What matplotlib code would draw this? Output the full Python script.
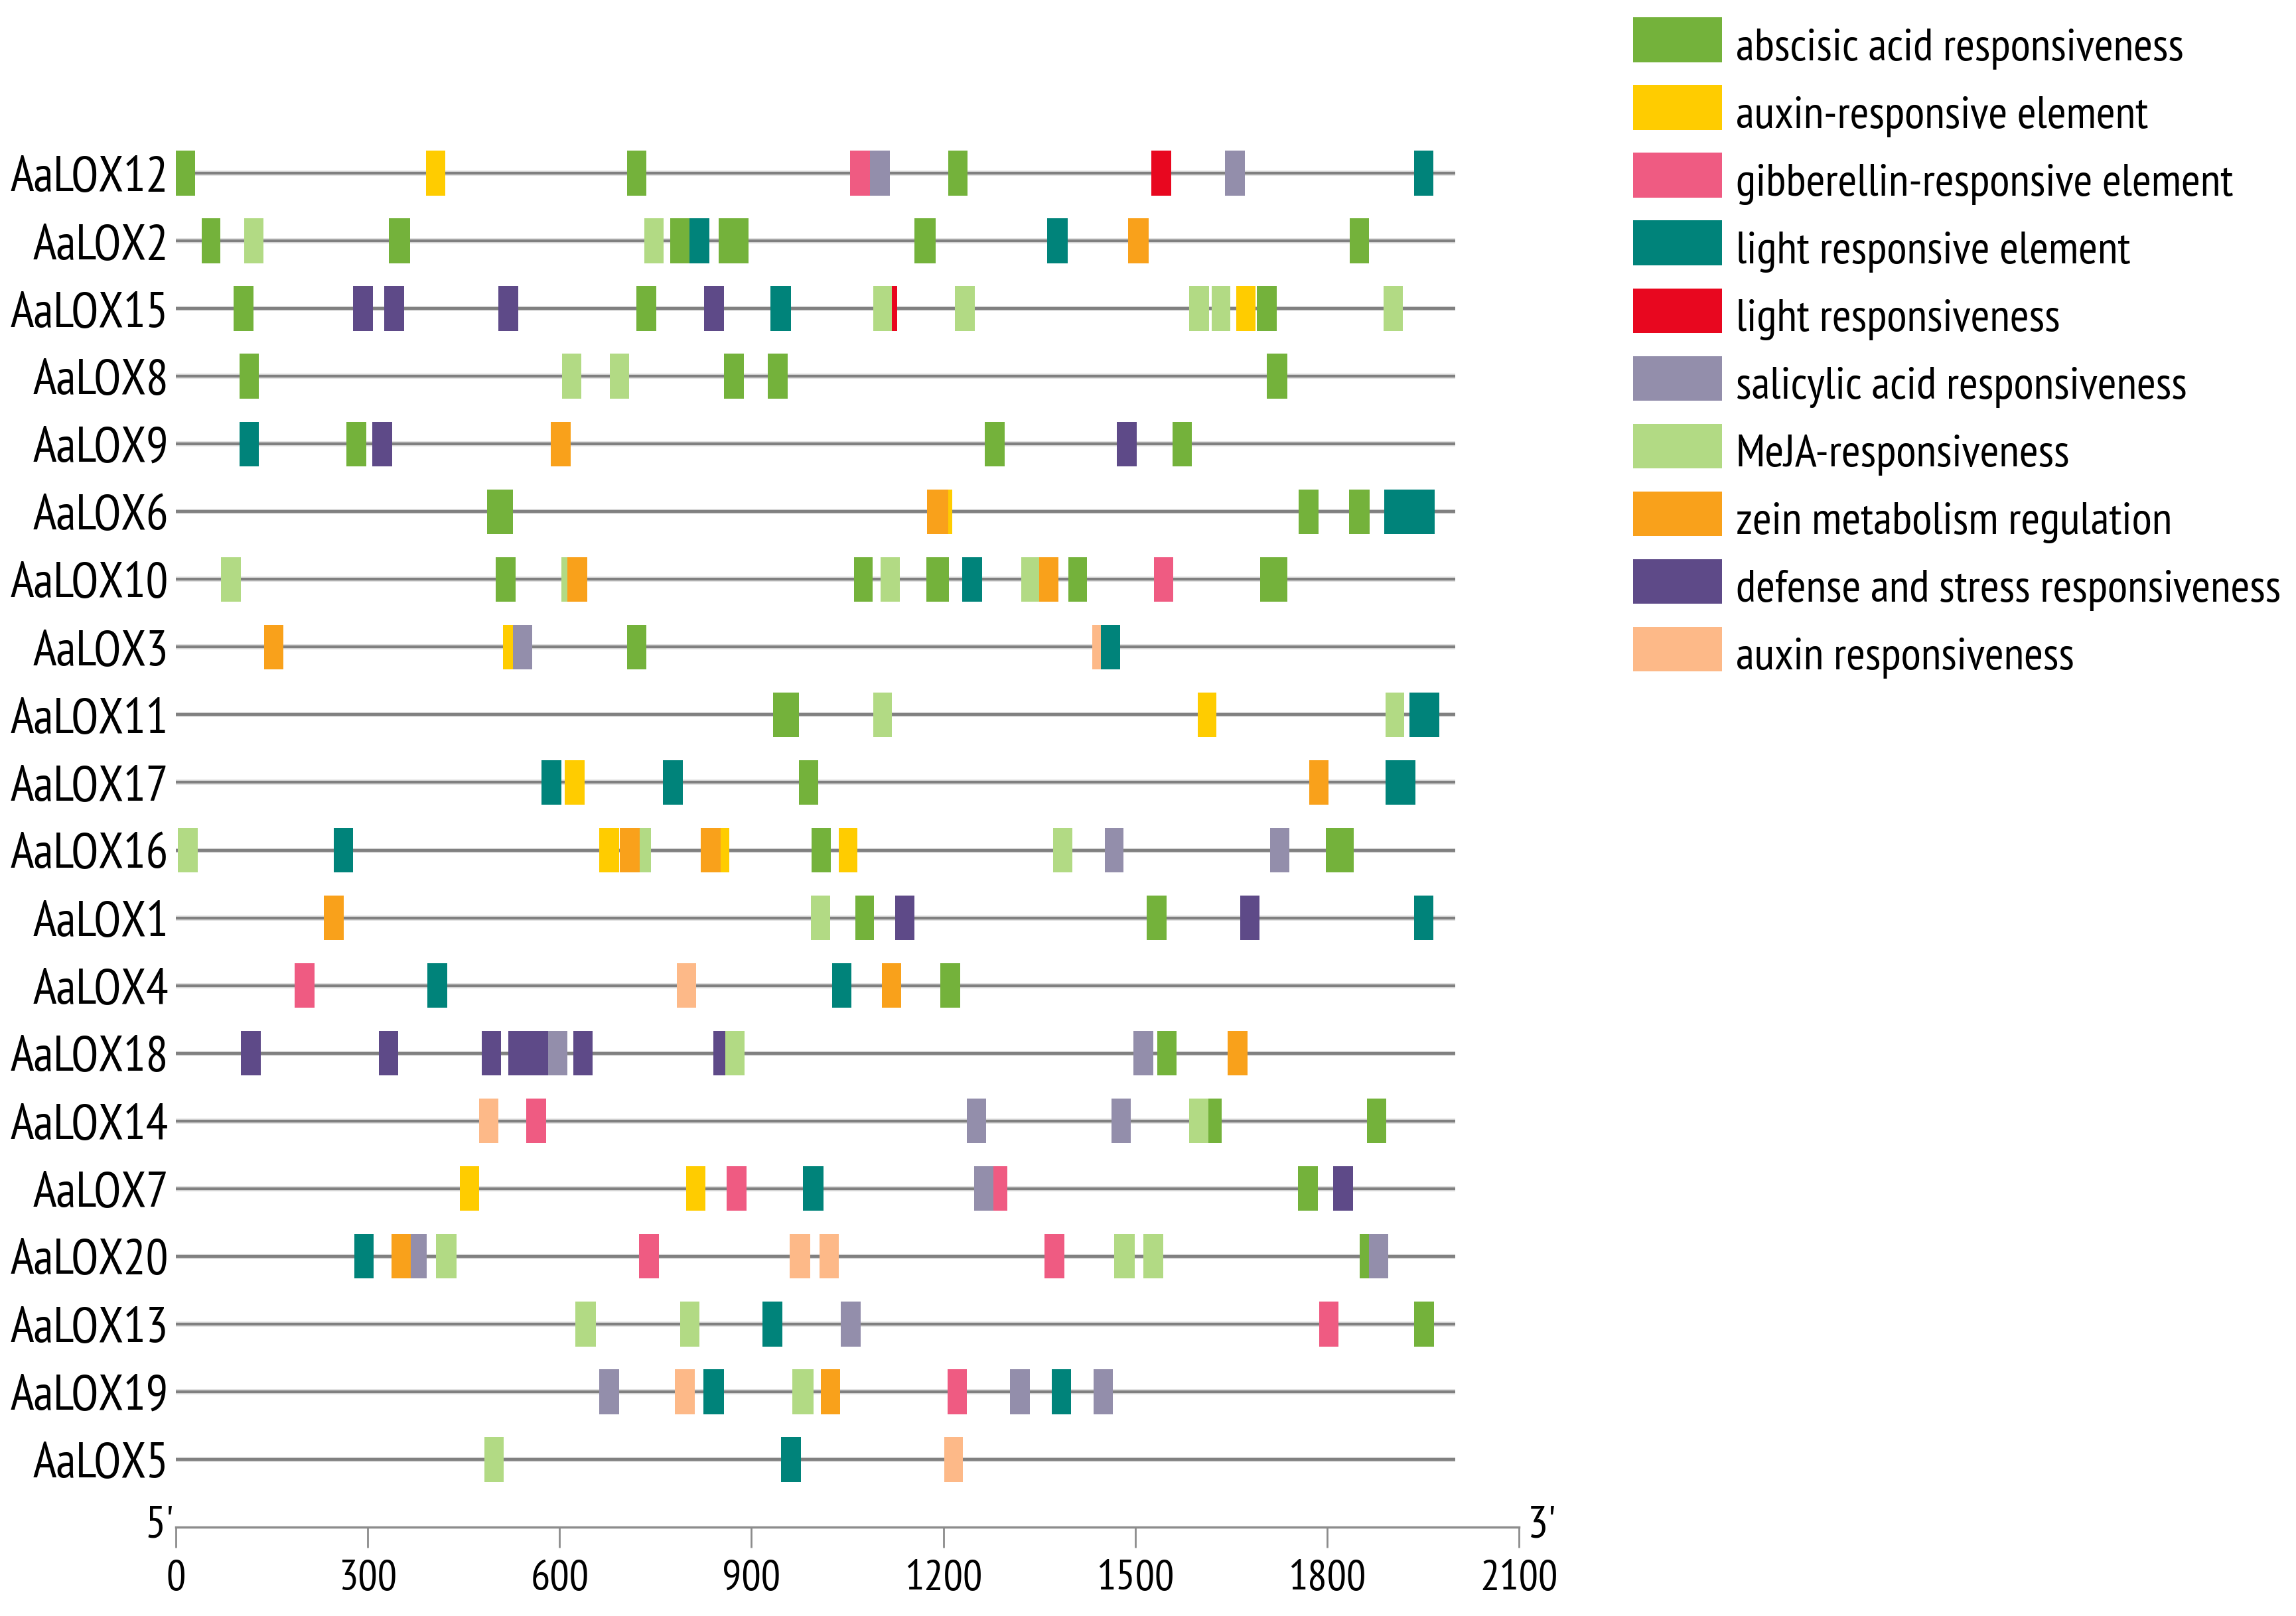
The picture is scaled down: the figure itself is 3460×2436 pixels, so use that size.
import matplotlib
matplotlib.use('Agg')
import matplotlib.pyplot as plt
from matplotlib import font_manager
from matplotlib.patches import Rectangle

# ---------------- data ----------------
categories = ['abscisic acid responsiveness', 'auxin-responsive element',
              'gibberellin-responsive element', 'light responsive element',
              'light responsiveness', 'salicylic acid responsiveness',
              'MeJA-responsiveness', 'zein metabolism regulation',
              'defense and stress responsiveness', 'auxin responsiveness']
codes = ['A', 'X', 'G', 'L', 'R', 'S', 'M', 'Z', 'D', 'U']
colors = ['#74B23B', '#FFCC00', '#EF5B82', '#00837A', '#E8071F',
          '#938EAB', '#B2DA84', '#F9A11B', '#5E4A88', '#FDB988']

genes = ['AaLOX12', 'AaLOX2', 'AaLOX15', 'AaLOX8', 'AaLOX9', 'AaLOX6',
         'AaLOX10', 'AaLOX3', 'AaLOX11', 'AaLOX17', 'AaLOX16', 'AaLOX1',
         'AaLOX4', 'AaLOX18', 'AaLOX14', 'AaLOX7', 'AaLOX20', 'AaLOX13',
         'AaLOX19', 'AaLOX5']
seq_length = 2000
x_ticks = [0, 300, 600, 900, 1200, 1500, 1800, 2100]

# (start, end, category code) for each gene
AaLOX12 = [(0, 30, 'A'), (391, 421, 'X'), (706, 736, 'A'), (1054, 1085, 'G'), (1085, 1116, 'S'),
           (1208, 1238, 'A'), (1525, 1556, 'R'), (1640, 1671, 'S'), (1936, 1966, 'L')]
AaLOX2 = [(40, 70, 'A'), (107, 137, 'M'), (333, 366, 'A'), (732, 763, 'M'), (773, 803, 'A'),
          (803, 834, 'L'), (849, 895, 'A'), (1155, 1188, 'A'), (1362, 1394, 'L'), (1489, 1521, 'Z'),
          (1835, 1866, 'A')]
AaLOX15 = [(90, 121, 'A'), (277, 308, 'D'), (326, 357, 'D'), (504, 535, 'D'), (720, 751, 'A'),
           (826, 857, 'D'), (930, 962, 'L'), (1090, 1120, 'M'), (1120, 1128, 'R'), (1218, 1249, 'M'),
           (1584, 1615, 'M'), (1620, 1649, 'M'), (1658, 1688, 'X'), (1690, 1721, 'A'), (1888, 1918, 'M')]
AaLOX8 = [(100, 130, 'A'), (604, 634, 'M'), (679, 709, 'M'), (857, 888, 'A'), (926, 957, 'A'),
          (1706, 1738, 'A')]
AaLOX9 = [(100, 130, 'L'), (267, 298, 'A'), (307, 338, 'D'), (586, 617, 'Z'), (1265, 1296, 'A'),
          (1471, 1502, 'D'), (1558, 1589, 'A')]
AaLOX6 = [(487, 527, 'A'), (1175, 1208, 'Z'), (1208, 1214, 'X'), (1756, 1787, 'A'), (1834, 1867, 'A'),
          (1889, 1968, 'L')]
AaLOX10 = [(71, 102, 'M'), (500, 531, 'A'), (603, 612, 'M'), (612, 643, 'Z'), (1060, 1089, 'A'),
           (1102, 1132, 'M'), (1173, 1209, 'A'), (1230, 1261, 'L'), (1322, 1350, 'M'), (1350, 1380, 'Z'),
           (1395, 1425, 'A'), (1529, 1559, 'G'), (1695, 1738, 'A')]
AaLOX3 = [(138, 168, 'Z'), (511, 527, 'X'), (527, 557, 'S'), (706, 736, 'A'), (1433, 1446, 'U'),
          (1446, 1476, 'L')]
AaLOX11 = [(934, 974, 'A'), (1090, 1120, 'M'), (1598, 1627, 'X'), (1891, 1921, 'M'), (1929, 1976, 'L')]
AaLOX17 = [(572, 603, 'L'), (608, 639, 'X'), (762, 793, 'L'), (974, 1004, 'A'), (1772, 1802, 'Z'),
           (1891, 1938, 'L')]
AaLOX16 = [(3, 34, 'M'), (247, 277, 'L'), (662, 693, 'X'), (694, 725, 'Z'), (725, 743, 'M'),
           (821, 852, 'Z'), (852, 865, 'X'), (994, 1024, 'A'), (1037, 1066, 'X'), (1372, 1402, 'M'),
           (1453, 1482, 'S'), (1711, 1741, 'S'), (1798, 1842, 'A')]
AaLOX1 = [(231, 262, 'Z'), (993, 1023, 'M'), (1062, 1092, 'A'), (1125, 1155, 'D'), (1518, 1549, 'A'),
          (1664, 1694, 'D'), (1936, 1966, 'L')]
AaLOX4 = [(186, 217, 'G'), (393, 424, 'L'), (783, 813, 'U'), (1026, 1056, 'L'), (1104, 1134, 'Z'),
          (1195, 1226, 'A')]
AaLOX18 = [(102, 133, 'D'), (317, 348, 'D'), (478, 508, 'D'), (520, 582, 'D'), (582, 612, 'S'),
           (621, 652, 'D'), (840, 859, 'D'), (859, 889, 'M'), (1497, 1528, 'S'), (1535, 1565, 'A'),
           (1645, 1676, 'Z')]
AaLOX14 = [(474, 504, 'U'), (548, 579, 'G'), (1237, 1267, 'S'), (1463, 1493, 'S'), (1584, 1614, 'M'),
           (1614, 1635, 'A'), (1862, 1893, 'A')]
AaLOX7 = [(444, 474, 'X'), (798, 828, 'X'), (861, 892, 'G'), (981, 1013, 'L'), (1248, 1278, 'S'),
          (1278, 1300, 'G'), (1755, 1786, 'A'), (1809, 1841, 'D')]
AaLOX20 = [(279, 309, 'L'), (337, 367, 'Z'), (367, 392, 'S'), (407, 439, 'M'), (724, 755, 'G'),
           (960, 992, 'U'), (1006, 1037, 'U'), (1358, 1389, 'G'), (1467, 1499, 'M'), (1513, 1544, 'M'),
           (1851, 1866, 'A'), (1866, 1896, 'S')]
AaLOX13 = [(625, 657, 'M'), (789, 819, 'M'), (917, 948, 'L'), (1040, 1071, 'S'), (1788, 1818, 'G'),
           (1936, 1967, 'A')]
AaLOX19 = [(662, 693, 'S'), (780, 811, 'U'), (825, 857, 'L'), (964, 997, 'M'), (1008, 1039, 'Z'),
           (1207, 1237, 'G'), (1304, 1335, 'S'), (1370, 1400, 'L'), (1435, 1465, 'S')]
AaLOX5 = [(482, 513, 'M'), (946, 977, 'L'), (1201, 1231, 'U')]

elements = [AaLOX12, AaLOX2, AaLOX15, AaLOX8, AaLOX9, AaLOX6, AaLOX10, AaLOX3, AaLOX11, AaLOX17,
            AaLOX16, AaLOX1, AaLOX4, AaLOX18, AaLOX14, AaLOX7, AaLOX20, AaLOX13, AaLOX19, AaLOX5]

# ---------------- style ----------------
names = {f.name for f in font_manager.fontManager.ttflist}
family = 'Liberation Sans'
for cand in ['Liberation Sans Narrow', 'Arial Narrow', 'PT Sans Narrow', 'Roboto Condensed',
             'IBM Plex Sans Condensed']:
    if cand in names:
        family = cand
        break
plt.rcParams['font.family'] = [family, 'DejaVu Sans']

color_of = dict(zip(codes, colors))
W, H = 3460, 2436
fig = plt.figure(figsize=(W / 100, H / 100), dpi=100)
ax = fig.add_axes([265 / W, 1 - 2302 / H, 2024 / W, (2302 - 210) / H])
ax.set_xlim(0, 2100)
ax.set_ylim(20, -0.5)

box_h = 0.66
for i, (gene, elems) in enumerate(zip(genes, elements)):
    ax.hlines(i, 0, seq_length, color='#dcdcdc', lw=5.5, zorder=1)
    ax.hlines(i, 0, seq_length, color='#808080', lw=3.0, zorder=2)
    for s, e, c in elems:
        ax.barh(i, e - s, left=s, height=box_h, color=color_of[c], lw=0, zorder=3)

for side in ['top', 'right', 'left']:
    ax.spines[side].set_visible(False)
ax.spines['bottom'].set_color('#8c8c8c')
ax.spines['bottom'].set_linewidth(2.5)

ax.set_xticks(x_ticks)
ax.set_xticklabels([str(t) for t in x_ticks])
ax.tick_params(axis='x', direction='out', length=22, width=2, color='#8c8c8c',
               labelsize=47, pad=13)
ax.set_yticks(range(len(genes)))
ax.set_yticklabels(genes)
ax.tick_params(axis='y', length=0, pad=8, labelsize=54)

ax.text(-3, 20.15, "5'", ha='right', va='baseline', fontsize=50, clip_on=False)
ax.text(2113, 20.15, "3'", ha='left', va='baseline', fontsize=50, clip_on=False)

# legend (drawn in the same axes, outside the plotting range)
for i, (name, col) in enumerate(zip(categories, colors)):
    yc = -1.97 + i
    ax.add_patch(Rectangle((2278, yc - box_h / 2), 140, box_h, facecolor=col, lw=0,
                           clip_on=False))
    ax.text(2439, yc + 0.30, name, ha='left', va='baseline', fontsize=50, clip_on=False)

fig.savefig('out.png', dpi=100, facecolor='white')
